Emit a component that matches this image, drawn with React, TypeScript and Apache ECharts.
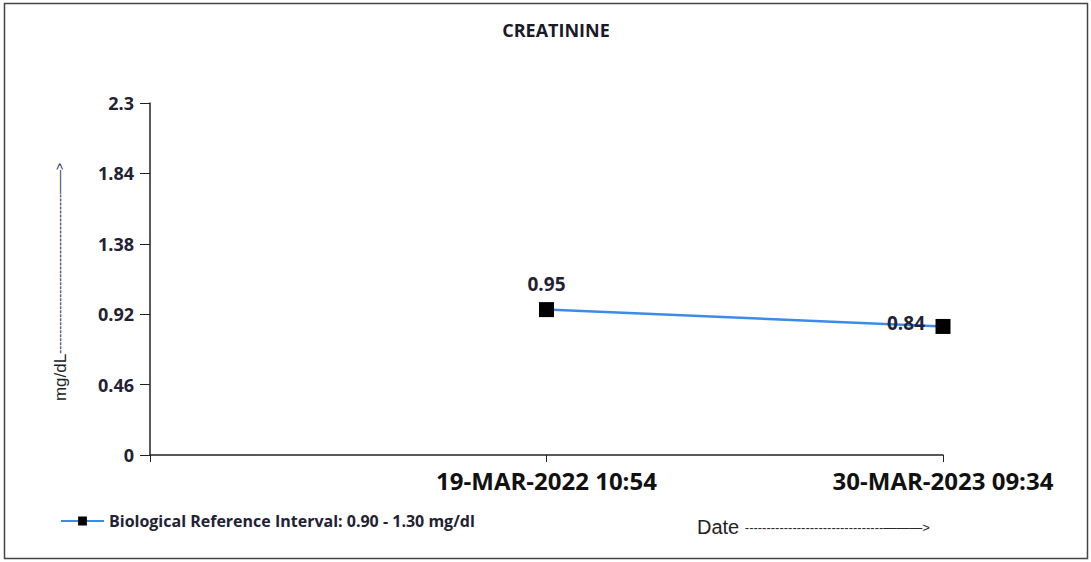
import React, { useEffect, useRef } from "react";
import * as echarts from "echarts";

const title = "CREATININE";
const categories = ["", "19-MAR-2022 10:54", "30-MAR-2023 09:34"];
const values: (number | null)[] = [null, 0.95, 0.84];
const seriesName = "Biological Reference Interval: 0.90 - 1.30 mg/dl";
const yMin = 0;
const yMax = 2.3;
const yInterval = 0.46;
const yAxisTitle = "{a|mg/dL}{b|" + "-".repeat(40) + "——>}";
const xAxisTitle = "{a|Date }{b|" + "-".repeat(32) + "———>}";

export default function App() {
  const ref = useRef<HTMLDivElement>(null);
  useEffect(() => {
    if (!ref.current) return;
    const chart = echarts.init(ref.current, null, { renderer: "svg" });
    chart.setOption({
      animation: false,
      backgroundColor: "#ffffff",
      title: {
        text: title,
        left: 551,
        top: 16,
        textAlign: "center",
        textStyle: { fontFamily: "Open Sans", fontWeight: "bold", fontSize: 18, color: "#1a1a2a" },
      },
      grid: { left: 150, right: 148, top: 103, bottom: 107, containLabel: false },
      legend: {
        left: 55,
        top: 508,
        itemWidth: 43,
        itemHeight: 11,
        textStyle: { fontFamily: "Open Sans", fontWeight: "bold", fontSize: 16, color: "#222233" },
        data: [seriesName],
      },
      xAxis: {
        type: "category",
        data: categories,
        boundaryGap: false,
        axisLine: { lineStyle: { color: "#222", width: 1.5 } },
        axisTick: { show: true, length: 7, lineStyle: { color: "#222" } },
        axisLabel: {
          margin: 13,
          fontFamily: "Open Sans",
          fontWeight: "bold",
          fontSize: 24,
          color: "#111",
        },
        splitLine: { show: false },
      },
      yAxis: {
        type: "value",
        min: yMin,
        max: yMax,
        interval: yInterval,
        axisLine: { show: true, lineStyle: { color: "#222", width: 1.5 } },
        axisTick: { show: true, length: 10, lineStyle: { color: "#222" } },
        axisLabel: {
          margin: 16,
          fontFamily: "Open Sans",
          fontWeight: "bold",
          fontSize: 18,
          color: "#222233",
        },
        splitLine: { show: false },
      },
      series: [
        {
          name: seriesName,
          type: "line",
          data: values,
          symbol: "rect",
          symbolSize: 15,
          itemStyle: { color: "#000" },
          lineStyle: { color: "#3b8beb", width: 2.5 },
          label: {
            show: true,
            fontFamily: "Open Sans",
            fontWeight: "bold",
            fontSize: 19,
            color: "#222233",
            position: "top",
            distance: 9,
          },
          labelLayout: (params: any) =>
            params.dataIndex === 2 ? { dx: -37, dy: params.rect.height + 8 } : {},
        },
      ],
      graphic: [
        {
          type: "rect",
          shape: { x: 4.5, y: 3.5, width: 1083, height: 555 },
          style: { fill: "none", stroke: "#444", lineWidth: 1.5 },
          silent: true,
        },
        {
          type: "text",
          x: 60,
          y: 282,
          rotation: Math.PI / 2,
          style: {
            text: yAxisTitle,
            align: "center",
            verticalAlign: "middle",
            fill: "#222",
            rich: {
              a: { fontFamily: "Liberation Sans", fontSize: 17, fill: "#222" },
              b: { fontFamily: "Liberation Sans", fontSize: 12, fill: "#2a2a4a" },
            },
          },
        },
        {
          type: "text",
          x: 697,
          y: 527,
          style: {
            text: xAxisTitle,
            align: "left",
            verticalAlign: "middle",
            fill: "#222",
            rich: {
              a: { fontFamily: "Liberation Sans", fontSize: 20, fill: "#222" },
              b: { fontFamily: "Liberation Sans", fontSize: 13, fill: "#2a2a2a" },
            },
          },
        },
      ],
    });
    return () => chart.dispose();
  }, []);
  return (
    <div
      ref={ref}
      style={{ position: "fixed", left: 0, top: 0, width: 1091, height: 562 }}
    />
  );
}
